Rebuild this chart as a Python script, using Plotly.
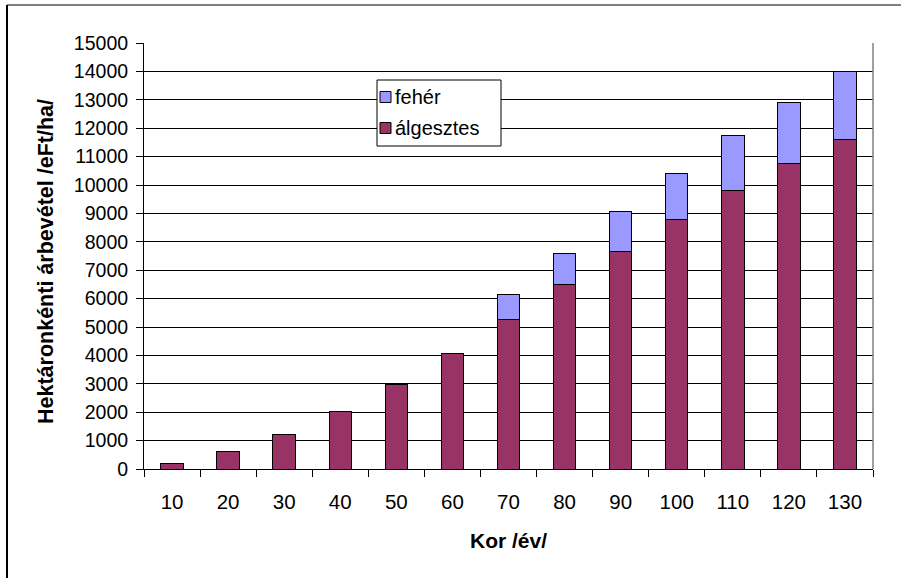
import plotly.graph_objects as go

# Stand age (years) and revenue per hectare (thousand HUF / ha)
kor = ["10", "20", "30", "40", "50", "60", "70", "80", "90", "100", "110", "120", "130"]
algesztes = [210, 630, 1230, 2030, 2990, 4080, 5270, 6480, 7650, 8770, 9810, 10750, 11590]
feher = [0, 0, 0, 0, 0, 0, 860, 1120, 1400, 1650, 1920, 2160, 2390]

y_ticks = list(range(0, 15001, 1000))
y_labels = [str(v) for v in y_ticks]

series = [("álgesztes", algesztes, "#993366"), ("fehér", feher, "#9999FF")]

FONT = "Liberation Sans, Arial, sans-serif"
W, H = 901, 578
L, R, T, B = 144, 28, 43, 109
pw, ph = W - L - R, H - T - B


def px_x(x):
    return (x - L) / pw


def px_y(y):
    return (H - B - y) / ph


fig = go.Figure()
for name, vals, col in series:
    fig.add_trace(go.Bar(
        x=kor, y=vals, name=name, showlegend=False,
        marker=dict(color=col, line=dict(color="#000000", width=1)),
    ))

# legend box drawn as shapes + text, fehér listed first
shapes = [
    dict(type="rect", xref="paper", yref="paper", x0=px_x(377), x1=px_x(501),
         y0=px_y(146), y1=px_y(80), fillcolor="white", line=dict(color="#000000", width=1),
         layer="above"),
]
annotations = []
for i, (name, vals, col) in enumerate(reversed(series)):
    cy = 97 + 31 * i
    shapes.append(dict(type="rect", xref="paper", yref="paper",
                       x0=px_x(380), x1=px_x(391), y0=px_y(cy + 5.5), y1=px_y(cy - 5.5),
                       fillcolor=col, line=dict(color="#000000", width=1), layer="above"))
    annotations.append(dict(text=name, xref="paper", yref="paper", x=px_x(393), y=px_y(cy),
                            xanchor="left", yanchor="middle", showarrow=False,
                            font=dict(size=20)))

shapes += [
    # plot-area frame (right side)
    dict(type="line", xref="paper", yref="paper", x0=1, x1=1, y0=0, y1=1,
         line=dict(color="#808080", width=1.5)),
    # outer chart frame
    dict(type="line", xref="paper", yref="paper", x0=px_x(7), x1=1.2,
         y0=px_y(5), y1=px_y(5), line=dict(color="#000000", width=1)),
    dict(type="line", xref="paper", yref="paper", x0=px_x(7), x1=px_x(7),
         y0=px_y(5), y1=-0.5, line=dict(color="#000000", width=2)),
]

annotations += [
    dict(text="<b>Kor /év/</b>", xref="paper", yref="paper", x=0.5, y=0,
         xanchor="center", yanchor="middle", yshift=-71, showarrow=False,
         font=dict(size=21)),
    dict(text="<b>Hektáronkénti árbevétel /eFt/ha/</b>", xref="paper", yref="paper",
         x=0, y=0.5, xanchor="center", yanchor="middle", xshift=-(L - 46), yshift=-6,
         textangle=-90, showarrow=False, font=dict(size=21.5)),
]

fig.update_layout(
    width=W, height=H,
    margin=dict(l=L, r=R, t=T, b=B, pad=0),
    barmode="stack", bargap=0.6,
    plot_bgcolor="white", paper_bgcolor="white",
    font=dict(family=FONT, color="#000000", size=20),
    showlegend=False,
    xaxis=dict(
        type="category", showgrid=False, showline=True, linecolor="#000000", linewidth=1,
        ticks="outside", tickson="boundaries", ticklen=7, tickcolor="#000000",
        tickfont=dict(size=20.5), ticklabelstandoff=14,
    ),
    yaxis=dict(
        range=[0, 15000], tickvals=y_ticks, ticktext=y_labels,
        showgrid=True, gridcolor="#000000", gridwidth=1,
        showline=True, linecolor="#000000", linewidth=1, zeroline=False,
        ticks="outside", ticklen=7, tickcolor="#000000",
        tickfont=dict(size=19.5), ticklabelstandoff=4,
    ),
    shapes=shapes,
    annotations=annotations,
)

fig.write_html("out.html")
